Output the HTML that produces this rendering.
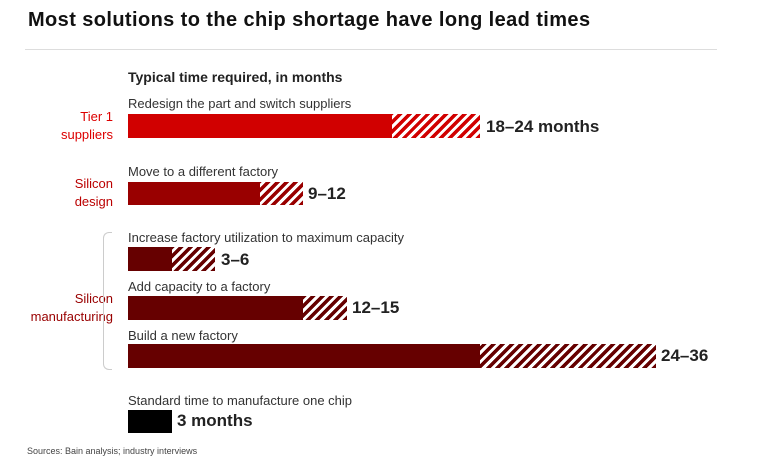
<!DOCTYPE html>
<html><head><style>
body{margin:0;width:776px;height:464px;background:#fff;font-family:"Liberation Sans",sans-serif;position:relative;overflow:hidden}
.a{position:absolute;white-space:nowrap}
.lbl{font-size:13px;color:#333}
.val{font-size:17px;font-weight:bold;color:#222}
.cat{font-size:13px;text-align:right;line-height:18px}
.h{position:absolute}
</style></head><body>
<div class="a" style="left:28px;top:9px;font-size:20px;font-weight:bold;letter-spacing:0.4px;color:#111">Most solutions to the chip shortage have long lead times</div>
<div class="a" style="left:25px;top:49px;width:692px;height:1px;background:#ddd"></div>
<div class="a" style="left:128px;top:69px;font-size:14px;font-weight:bold;color:#222">Typical time required, in months</div>

<div class="a cat" style="right:663px;top:108px;color:#d00">Tier 1<br>suppliers</div>
<div class="a cat" style="right:663px;top:175px;color:#b00">Silicon<br>design</div>
<div class="a cat" style="right:663px;top:290px;color:#900">Silicon<br>manufacturing</div>
<div class="a" style="left:103px;top:232px;width:8px;height:136px;border:1px solid #ccc;border-right:none;border-radius:6px 0 0 6px"></div>

<div class="a lbl" style="left:128px;top:96px">Redesign the part and switch suppliers</div>
<div class="h" style="left:128px;top:114px;width:264px;height:24px;background:#d10000"></div>
<div class="h" style="left:392px;top:114px;width:88px;height:24px;background:repeating-linear-gradient(-45deg,#d10000 0 3.5px,#fff 3.5px 6.5px)"></div>
<div class="a val" style="left:486px;top:117px">18–24 months</div>

<div class="a lbl" style="left:128px;top:164px">Move to a different factory</div>
<div class="h" style="left:128px;top:182px;width:132px;height:23px;background:#990000"></div>
<div class="h" style="left:260px;top:182px;width:43px;height:23px;background:repeating-linear-gradient(-45deg,#990000 0 3.5px,#fff 3.5px 6.5px)"></div>
<div class="a val" style="left:308px;top:184px">9–12</div>

<div class="a lbl" style="left:128px;top:230px">Increase factory utilization to maximum capacity</div>
<div class="h" style="left:128px;top:247px;width:44px;height:24px;background:#660000"></div>
<div class="h" style="left:172px;top:247px;width:43px;height:24px;background:repeating-linear-gradient(-45deg,#660000 0 3.5px,#fff 3.5px 6.5px)"></div>
<div class="a val" style="left:221px;top:250px">3–6</div>

<div class="a lbl" style="left:128px;top:279px">Add capacity to a factory</div>
<div class="h" style="left:128px;top:296px;width:175px;height:24px;background:#660000"></div>
<div class="h" style="left:303px;top:296px;width:44px;height:24px;background:repeating-linear-gradient(-45deg,#660000 0 3.5px,#fff 3.5px 6.5px)"></div>
<div class="a val" style="left:352px;top:298px">12–15</div>

<div class="a lbl" style="left:128px;top:328px">Build a new factory</div>
<div class="h" style="left:128px;top:344px;width:352px;height:24px;background:#660000"></div>
<div class="h" style="left:480px;top:344px;width:176px;height:24px;background:repeating-linear-gradient(-45deg,#660000 0 3.5px,#fff 3.5px 6.5px)"></div>
<div class="a val" style="left:661px;top:346px">24–36</div>

<div class="a lbl" style="left:128px;top:393px">Standard time to manufacture one chip</div>
<div class="h" style="left:128px;top:410px;width:44px;height:23px;background:#000"></div>
<div class="a val" style="left:177px;top:411px">3 months</div>

<div class="a" style="left:27px;top:446px;font-size:9px;color:#444">Sources: Bain analysis; industry interviews</div>
</body></html>
